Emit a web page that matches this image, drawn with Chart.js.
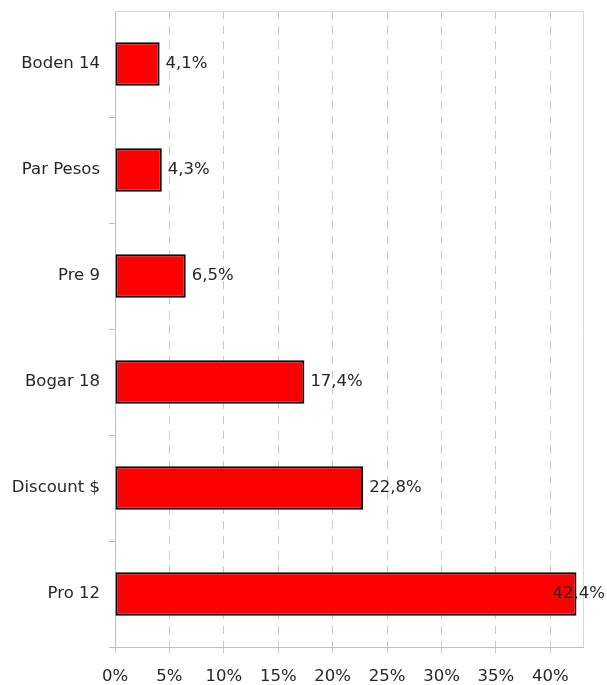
<!DOCTYPE html>
<html>
<head>
<meta charset="utf-8">
<script src="https://cdn.jsdelivr.net/npm/chart.js@4"></script>
<style>
  html, body { margin: 0; padding: 0; background: #fff; }
  #wrap { width: 607px; height: 685px; }
</style>
</head>
<body>
<div id="wrap"><canvas id="c" width="607" height="685"></canvas></div>
<script>
/* ---------- dados ---------- */
const categories = ['Boden 14', 'Par Pesos', 'Pre 9', 'Bogar 18', 'Discount $', 'Pro 12'];
const shares = [4.1, 4.3, 6.5, 17.4, 22.8, 42.4];
const xMax = 43;
const xStep = 5;

const FONT = "'DejaVu Sans', sans-serif";
const FSIZE = 16.5;
const TXT = '#262626';
const fmtPct = v => v.toFixed(1).replace('.', ',') + '%';

/* ---------- rótulos e moldura ---------- */
const barLabels = {
    id: 'barLabels',
    afterDatasetsDraw(chart) {
        const ctx = chart.ctx;
        const meta = chart.getDatasetMeta(0);
        ctx.save();
        ctx.font = FSIZE + 'px ' + FONT;
        ctx.fillStyle = TXT;
        ctx.textBaseline = 'middle';
        meta.data.forEach((bar, i) => {
            const txt = fmtPct(shares[i]);
            const w = ctx.measureText(txt).width;
            const x = Math.min(bar.x + 6, chart.width - 2 - w);
            ctx.fillText(txt, x, bar.y);
        });
        ctx.restore();
    }
};

const frame = {
    id: 'frame',
    beforeDatasetsDraw(chart) {
        const { ctx, chartArea: a } = chart;
        ctx.save();
        ctx.strokeStyle = '#d9d9d9';
        ctx.lineWidth = 1;
        ctx.beginPath();
        ctx.moveTo(a.left, a.top + 0.5);
        ctx.lineTo(a.right + 0.5, a.top + 0.5);
        ctx.lineTo(a.right + 0.5, a.bottom);
        ctx.stroke();
        ctx.restore();
    }
};

new Chart(document.getElementById('c'), {
    type: 'bar',
    data: {
        labels: categories,
        datasets: [{
            data: shares,
            backgroundColor: '#ff0000',
            borderColor: '#000000',
            borderWidth: 2,
            borderSkipped: false,
            categoryPercentage: 1,
            barPercentage: 0.41
        }]
    },
    options: {
        indexAxis: 'y',
        responsive: false,
        animation: false,
        layout: { padding: { top: 11, right: 24, left: 0, bottom: 0 } },
        plugins: { legend: { display: false }, tooltip: { enabled: false } },
        scales: {
            x: {
                min: 0,
                max: xMax,
                afterFit(s) { s.height = 38; s.paddingLeft = 0; s.paddingRight = 0; },
                ticks: {
                    stepSize: xStep,
                    includeBounds: false,
                    color: TXT,
                    font: { family: FONT, size: FSIZE },
                    padding: 14,
                    callback: v => v + '%'
                },
                grid: {
                    color: '#c8c8c8',
                    tickLength: 6,
                    tickBorderDash: [8, 7]
                },
                border: { display: true, color: '#bfbfbf', dash: [8, 7] }
            },
            y: {
                afterFit(s) { s.width = 115; s.paddingTop = 0; s.paddingBottom = 0; },
                ticks: {
                    color: TXT,
                    font: { family: FONT, size: FSIZE },
                    padding: 9
                },
                grid: {
                    drawOnChartArea: false,
                    color: c => c.index === 0 ? 'rgba(0,0,0,0)' : '#bfbfbf',
                    tickLength: 6
                },
                border: { display: true, color: '#bfbfbf' }
            }
        }
    },
    plugins: [frame, barLabels]
});
</script>
</body>
</html>
